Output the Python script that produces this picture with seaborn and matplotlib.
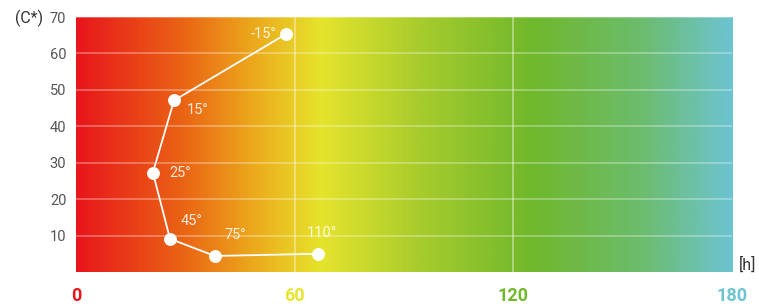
import matplotlib.pyplot as plt
import numpy as np
import pandas as pd
import seaborn as sns
from matplotlib.colors import LinearSegmentedColormap

# hue (h) vs chroma (C*) points, labelled by angle
hue = [57.6, 26.9, 21.1, 25.8, 38.1, 66.4]
chroma = [65.3, 47.1, 27.3, 9.1, 4.4, 5.0]
angle_labels = ['-15°', '15°', '25°', '45°', '75°', '110°']

x_ticks = [0, 60, 120, 180]
x_tick_colors = ['#e8161c', '#e6e42c', '#70b82c', '#6cc4d0']
y_ticks = [10, 20, 30, 40, 50, 60, 70]

# background gradient stops along the h axis
grad_pos = [0, 29, 48, 67, 94, 125, 155, 180]
grad_colors = ['#e8161c', '#ea6414', '#eca81c', '#e6e42c', '#a8cc2c', '#70b82c', '#6cbc6c', '#6cc4d0']

df = pd.DataFrame({'h': hue, 'C': chroma, 'label': angle_labels})

sns.set_style('white')
plt.rcParams['font.family'] = ['Roboto', 'DejaVu Sans']

fig = plt.figure(figsize=(7.59, 3.08), dpi=100)
ax = fig.add_axes([0.1001, 0.1169, 0.8643, 0.8279])

cmap = LinearSegmentedColormap.from_list('hue', list(zip(np.array(grad_pos) / 180, grad_colors)))
ax.imshow(np.linspace(0, 1, 400).reshape(1, -1), cmap=cmap, aspect='auto',
          extent=[0, 180, 0, 70], zorder=0)

for yv in y_ticks:
    ax.axhline(yv, color='white', alpha=0.35, lw=1.2, zorder=1)
for xv in [60, 120]:
    ax.axvline(xv, color='white', alpha=0.45, lw=1.2, zorder=1)

sns.lineplot(data=df, x='h', y='C', sort=False, color='white', lw=1.3,
             marker='o', markersize=8.5, markeredgecolor='white', ax=ax, zorder=3)

offsets = [(-7, 0), (9, -7), (12, 0), (8, 8), (7, 10), (-8, 10)]
aligns = [('right', 'center'), ('left', 'center'), ('left', 'center'),
          ('left', 'bottom'), ('left', 'bottom'), ('left', 'bottom')]
for (x, y, lab), off, (ha, va) in zip(zip(hue, chroma, angle_labels), offsets, aligns):
    ax.annotate(lab, (x, y), xytext=off, textcoords='offset points', ha=ha, va=va,
                color='white', alpha=0.85, fontsize=10.5, zorder=4)

ax.set_xlim(0, 180)
ax.set_ylim(0, 70)
ax.set_xticks(x_ticks)
ax.set_xticklabels([str(t) for t in x_ticks], fontsize=13, fontweight='bold')
for lab, c in zip(ax.get_xticklabels(), x_tick_colors):
    lab.set_color(c)
ax.set_yticks(y_ticks)
ax.set_yticklabels([str(t) for t in y_ticks], fontsize=10.5, color='#555555')
ax.tick_params(axis='x', length=0, pad=11)
ax.tick_params(axis='y', length=0, pad=7)
ax.set_xlabel('')
ax.set_ylabel('')
for s in ax.spines.values():
    s.set_visible(False)

fig.text(43 / 759, 1 - 18 / 308, '(C*)', fontsize=11.5, color='#333333', ha='right', va='center')
fig.text(748 / 759, 1 - 265 / 308, '[h]', fontsize=11.5, color='#333333', ha='center', va='center')

fig.savefig('out.png', dpi=100)
